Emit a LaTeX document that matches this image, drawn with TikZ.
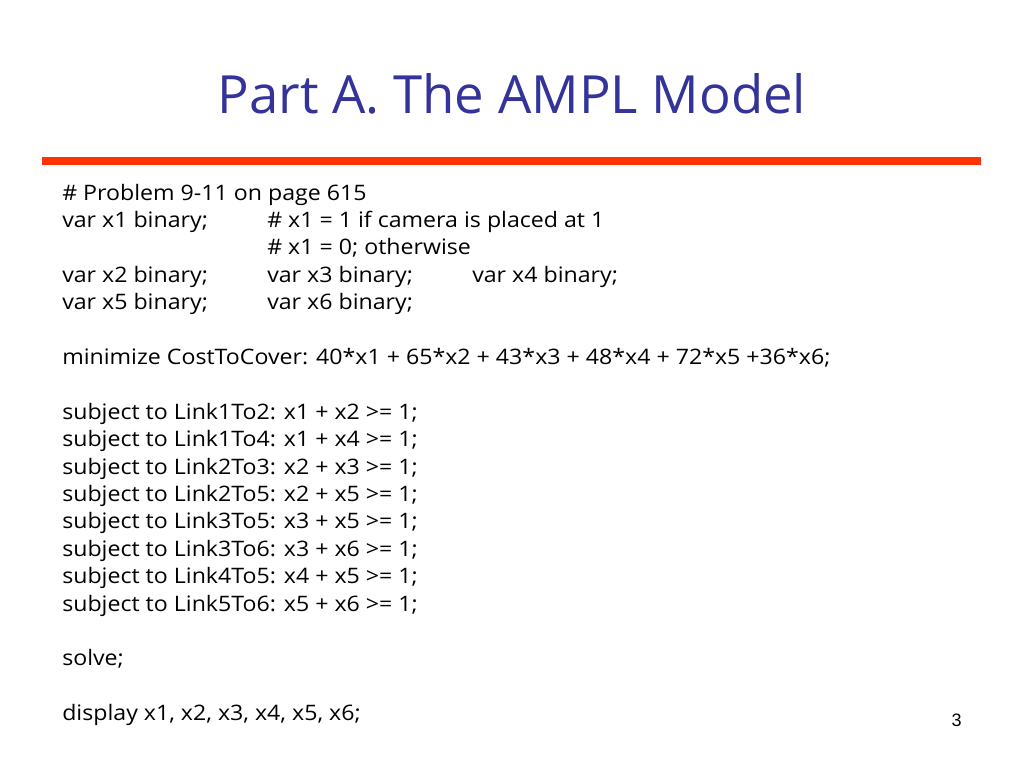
\documentclass[tikz,border=0pt]{standalone}
\usepackage{fontspec}
\setmainfont{Open Sans}
\newfontfamily\codefont{Open Sans}[FakeStretch=1.085]
\newfontfamily\numfont{Liberation Sans}
\definecolor{titleblue}{HTML}{333399}
\definecolor{barred}{HTML}{FF3300}
\tikzset{
  codeline/.style={anchor=base west, inner sep=0pt, font=\codefont\fontsize{16}{19}\selectfont, text=black},
  titletext/.style={anchor=base, inner sep=0pt, font=\fontsize{39.5}{46}\selectfont, text=titleblue},
  pagenum/.style={anchor=base east, inner sep=0pt, font=\numfont\fontsize{13.5}{16}\selectfont}
}
\begin{document}
\begin{tikzpicture}[x=0.75pt,y=-0.75pt]
\useasboundingbox (0,0) rectangle (1024,768);
\fill[white] (0,0) rectangle (1024,768);
\node[titletext] (title) at (512,113) {Part A. The AMPL Model};
\fill[barred] (42,157) rectangle (981,165);
\node[codeline] (l0) at (62,200) {\# Problem 9-11 on page 615};
\node[codeline] (l1a) at (62,227.4) {var x1 binary;};
\node[codeline] (l1b) at (267,227.4) {\# x1 = 1 if camera is placed at 1};
\node[codeline] (l2) at (267,254.8) {\# x1 = 0; otherwise};
\node[codeline] (l3a) at (62,282.2) {var x2 binary;};
\node[codeline] (l3b) at (267,282.2) {var x3 binary;};
\node[codeline] (l3c) at (472,282.2) {var x4 binary;};
\node[codeline] (l4a) at (62,309.6) {var x5 binary;};
\node[codeline] (l4b) at (267,309.6) {var x6 binary;};
\node[codeline] (l6) at (62,364.4) {minimize CostToCover: 40*x1 + 65*x2 + 43*x3 + 48*x4 + 72*x5 +36*x6;};
\node[codeline] (l8) at (62,419.2) {subject to Link1To2: x1 + x2 >= 1;};
\node[codeline] (l9) at (62,446.6) {subject to Link1To4: x1 + x4 >= 1;};
\node[codeline] (l10) at (62,474.0) {subject to Link2To3: x2 + x3 >= 1;};
\node[codeline] (l11) at (62,501.4) {subject to Link2To5: x2 + x5 >= 1;};
\node[codeline] (l12) at (62,528.8) {subject to Link3To5: x3 + x5 >= 1;};
\node[codeline] (l13) at (62,556.2) {subject to Link3To6: x3 + x6 >= 1;};
\node[codeline] (l14) at (62,583.6) {subject to Link4To5: x4 + x5 >= 1;};
\node[codeline] (l15) at (62,611.0) {subject to Link5To6: x5 + x6 >= 1;};
\node[codeline] (l17) at (62,665.8) {solve;};
\node[codeline] (l19) at (62,720.6) {display x1, x2, x3, x4, x5, x6;};
\node[pagenum] (num) at (962,726) {3};
\end{tikzpicture}
\end{document}
